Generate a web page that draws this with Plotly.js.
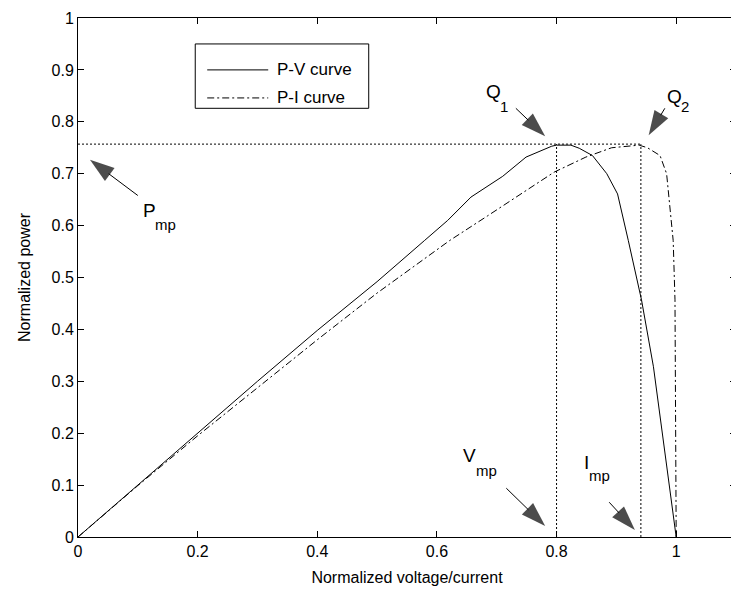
<!DOCTYPE html>
<html>
<head>
<meta charset="utf-8">
<script src="https://cdn.plot.ly/plotly-3.0.1.min.js"></script>
<style>
html,body{margin:0;padding:0;overflow:hidden;background:#fff;}
#chart{width:740px;height:593px;}
</style>
</head>
<body>
<div id="chart"></div>
<script>
// P-V curve (solid)
var pvX = [0, 0.05, 0.1, 0.2, 0.3, 0.4, 0.5, 0.579, 0.618, 0.657, 0.71, 0.749, 0.792, 0.8, 0.824, 0.838, 0.86, 0.884, 0.902, 0.92, 0.942, 0.962, 0.985, 1.0];
var pvY = [0, 0.05, 0.1, 0.2, 0.3, 0.398, 0.492, 0.571, 0.61, 0.655, 0.695, 0.732, 0.753, 0.755, 0.755, 0.749, 0.735, 0.7, 0.661, 0.571, 0.457, 0.328, 0.135, 0];
// P-I curve (dash-dot)
var piX = [0, 0.05, 0.1, 0.2, 0.3, 0.4, 0.5, 0.621, 0.685, 0.749, 0.796, 0.849, 0.892, 0.938, 0.952, 0.973, 0.984, 0.995, 0.998, 1.0];
var piY = [0, 0.05, 0.099, 0.195, 0.288, 0.38, 0.47, 0.571, 0.619, 0.668, 0.703, 0.732, 0.75, 0.755, 0.75, 0.735, 0.7, 0.571, 0.457, 0];
// Maximum power point values
var pmp = 0.757;
var vmp = 0.8;
var imp = 0.941;
var seriesNames = ["P-V curve", "P-I curve"];
var xTicks = [0, 0.2, 0.4, 0.6, 0.8, 1];
var yTicks = [0, 0.1, 0.2, 0.3, 0.4, 0.5, 0.6, 0.7, 0.8, 0.9, 1];

var FONT = "Liberation Sans, Arial, Helvetica, sans-serif";
var DASHDOT = "7px,3px,2px,3px";
var DOT = "2px,2px";

var traces = [
  {x: [0, imp], y: [pmp, pmp], mode: "lines", line: {color: "#000", width: 1, dash: DOT}, showlegend: false, hoverinfo: "skip"},
  {x: [vmp, vmp], y: [0, pmp], mode: "lines", line: {color: "#000", width: 1, dash: DOT}, showlegend: false, hoverinfo: "skip"},
  {x: [imp, imp], y: [0, pmp], mode: "lines", line: {color: "#000", width: 1, dash: DOT}, showlegend: false, hoverinfo: "skip"},
  {x: pvX, y: pvY, name: seriesNames[0], mode: "lines", line: {color: "#000", width: 1}, showlegend: false},
  {x: piX, y: piY, name: seriesNames[1], mode: "lines", line: {color: "#000", width: 1, dash: DASHDOT}, showlegend: false}
];

// annotation arrows: [tailX, tailY, tipX, tipY]
var arrowDefs = [
  [0.732, 0.826, 0.781, 0.772],
  [0.981, 0.826, 0.954, 0.774],
  [0.1, 0.658, 0.02, 0.727],
  [0.716, 0.094, 0.781, 0.021],
  [0.888, 0.067, 0.931, 0.0135]
];
arrowDefs.forEach(function (a) {
  traces.push({
    x: [a[0], a[2]], y: [a[1], a[3]], mode: "lines+markers",
    line: {color: "#000", width: 1},
    marker: {symbol: ["circle", "arrow"], size: [0, 26], color: "#000", angleref: "previous", line: {width: 0}},
    showlegend: false, hoverinfo: "skip", cliponaxis: false
  });
});

// labels: [main text, subscript, mainX, mainY, subX, subY]
var labelDefs = [
  ["Q", "1", 0.678, 0.858, 0.702, 0.830],
  ["Q", "2", 0.981, 0.848, 1.005, 0.830],
  ["P", "mp", 0.105, 0.629, 0.126, 0.603],
  ["V", "mp", 0.640, 0.158, 0.662, 0.128],
  ["I", "mp", 0.842, 0.143, 0.851, 0.118]
];

var annotations = [];
labelDefs.forEach(function (d) {
  annotations.push({x: d[2], y: d[3], xref: "x", yref: "y", text: d[0], showarrow: false,
    xanchor: "left", yanchor: "middle", font: {family: FONT, size: 19, color: "#000"}});
  annotations.push({x: d[4], y: d[5], xref: "x", yref: "y", text: d[1], showarrow: false,
    xanchor: "left", yanchor: "middle", font: {family: FONT, size: 15, color: "#000"}});
});
// legend texts
annotations.push({x: 0.329, y: 0.9, xref: "x", yref: "y", text: seriesNames[0], showarrow: false, xanchor: "left", yanchor: "middle", font: {family: FONT, size: 17, color: "#000"}});
annotations.push({x: 0.329, y: 0.846, xref: "x", yref: "y", text: seriesNames[1], showarrow: false, xanchor: "left", yanchor: "middle", font: {family: FONT, size: 17, color: "#000"}});

var shapes = [
  {type: "rect", xref: "x", yref: "y", x0: 0.196, x1: 0.486, y0: 0.826, y1: 0.95, line: {color: "#000", width: 1}, fillcolor: "#fff", layer: "above"},
  {type: "line", xref: "x", yref: "y", x0: 0.216, x1: 0.318, y0: 0.9, y1: 0.9, line: {color: "#000", width: 1}, layer: "above"},
  {type: "line", xref: "x", yref: "y", x0: 0.216, x1: 0.318, y0: 0.846, y1: 0.846, line: {color: "#000", width: 1, dash: DASHDOT}, layer: "above"}
];

var layout = {
  width: 740, height: 593,
  margin: {l: 78, r: 4, t: 18, b: 56},
  paper_bgcolor: "#fff", plot_bgcolor: "#fff",
  font: {family: FONT, size: 16, color: "#000"},
  showlegend: false,
  xaxis: {
    range: [0, 1.1], tickvals: xTicks, ticktext: xTicks.map(String),
    ticks: "inside", ticklen: 6, tickcolor: "#000", tickwidth: 1,
    showline: true, linecolor: "#000", linewidth: 1, mirror: "ticks",
    showgrid: false, zeroline: false,
    tickfont: {family: FONT, size: 16, color: "#000"},
    title: {text: "Normalized voltage/current", font: {family: FONT, size: 16, color: "#000"}, standoff: 12}
  },
  yaxis: {
    range: [0, 1], tickvals: yTicks, ticktext: yTicks.map(String),
    ticks: "inside", ticklen: 6, tickcolor: "#000", tickwidth: 1,
    showline: true, linecolor: "#000", linewidth: 1, mirror: "ticks",
    showgrid: false, zeroline: false,
    tickfont: {family: FONT, size: 16, color: "#000"},
    title: {text: "Normalized power", font: {family: FONT, size: 16, color: "#000"}, standoff: 16}
  },
  annotations: annotations,
  shapes: shapes
};

Plotly.newPlot("chart", traces, layout, {staticPlot: true, displayModeBar: false});
</script>
</body>
</html>
